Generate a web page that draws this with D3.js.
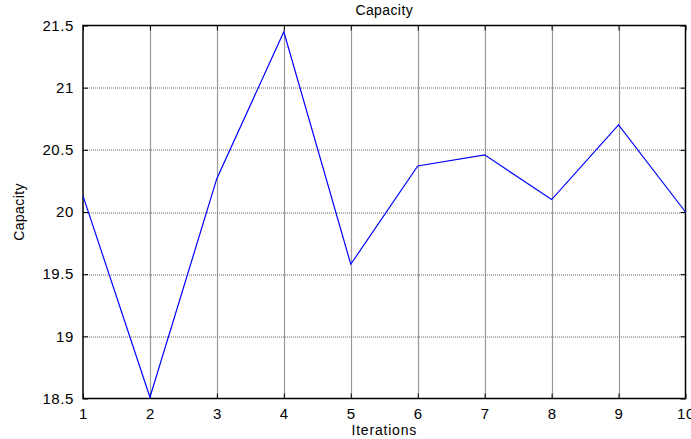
<!DOCTYPE html>
<html>
<head>
<meta charset="utf-8">
<script src="https://cdn.jsdelivr.net/npm/d3@7"></script>
<style>
  body { margin: 0; background: #fff; }
  text { font-family: "Liberation Sans", Arial, sans-serif; fill: #000; }
</style>
</head>
<body>
<div id="chart"></div>
<script>
// values
const iterations = [1, 2, 3, 4, 5, 6, 7, 8, 9, 10];
const capacity = [20.13, 18.51, 20.27, 21.45, 19.58, 20.37, 20.46, 20.10, 20.70, 20.0];
const xTicks = [1, 2, 3, 4, 5, 6, 7, 8, 9, 10];
const yTicks = [18.5, 19, 19.5, 20, 20.5, 21, 21.5];

const W = 691, H = 439;
const margin = { top: 25.5, right: 5.5, bottom: 40.5, left: 83 };
const width = W - margin.left - margin.right;
const height = H - margin.top - margin.bottom;

const svg = d3.select("#chart").append("svg")
    .attr("width", W)
    .attr("height", H);

const g = svg.append("g")
    .attr("transform", "translate(" + margin.left + "," + margin.top + ")");

const x = d3.scaleLinear().domain([1, 10]).range([0, width]);
const y = d3.scaleLinear().domain([18.5, 21.5]).range([height, 0]);

// grid
g.selectAll(".vgrid").data(xTicks.slice(1, -1)).enter().append("line")
    .attr("x1", d => Math.round(x(d)) + 0.5).attr("x2", d => Math.round(x(d)) + 0.5)
    .attr("y1", 0).attr("y2", height)
    .attr("stroke", "#9a9a9a").attr("stroke-width", 1.2);

g.selectAll(".hgrid").data(yTicks.slice(1, -1)).enter().append("line")
    .attr("x1", 0).attr("x2", width)
    .attr("y1", d => Math.round(y(d)) + 0.5).attr("y2", d => Math.round(y(d)) + 0.5)
    .attr("stroke", "#666").attr("stroke-width", 1)
    .attr("stroke-dasharray", "1,1");

// axes (ticks inward, MATLAB style)
const xAxis = d3.axisBottom(x).tickValues(xTicks).tickSize(-5).tickPadding(10).tickFormat(d3.format("d"));
const xAxisTop = d3.axisTop(x).tickValues(xTicks).tickSize(-5).tickFormat("");
const yAxis = d3.axisLeft(y).tickValues(yTicks).tickSize(-5).tickPadding(9).tickFormat(d => String(d));
const yAxisRight = d3.axisRight(y).tickValues(yTicks).tickSize(-5).tickFormat("");

function style(sel) {
    sel.select(".domain").remove();
    sel.selectAll(".tick line").attr("stroke", "#000");
    sel.selectAll(".tick text")
        .style("font-size", "15px")
        .style("letter-spacing", "0.6px")
        .attr("fill", "#000");
}

g.append("g").attr("transform", "translate(0," + height + ")").call(xAxis).call(style);
g.append("g").call(xAxisTop).call(style);
g.append("g").call(yAxis).call(style);
g.append("g").attr("transform", "translate(" + width + ",0)").call(yAxisRight).call(style);

// box
g.append("rect")
    .attr("x", 0).attr("y", 0).attr("width", width).attr("height", height)
    .attr("fill", "none").attr("stroke", "#000").attr("stroke-width", 1.5);

// line
const line = d3.line()
    .x((d, i) => x(iterations[i]))
    .y(d => y(d));

g.append("path")
    .datum(capacity)
    .attr("fill", "none")
    .attr("stroke", "#0000ff")
    .attr("stroke-width", 1.2)
    .attr("d", line);

// labels
svg.append("text")
    .attr("x", margin.left + width / 2).attr("y", 15)
    .attr("text-anchor", "middle")
    .style("font-size", "14px")
    .style("letter-spacing", "0.4px")
    .text("Capacity");

svg.append("text")
    .attr("x", margin.left + width / 2).attr("y", 435)
    .attr("text-anchor", "middle")
    .style("font-size", "14px")
    .style("letter-spacing", "0.8px")
    .text("Iterations");

svg.append("text")
    .attr("transform", "translate(24," + (margin.top + height / 2) + ") rotate(-90)")
    .attr("text-anchor", "middle")
    .style("font-size", "14px")
    .style("letter-spacing", "0.4px")
    .text("Capacity");
</script>
</body>
</html>
